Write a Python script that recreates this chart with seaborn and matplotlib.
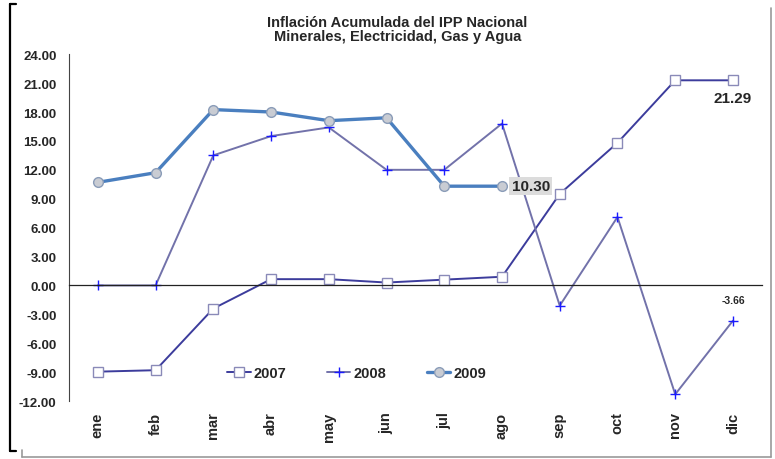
"""Inflacion acumulada del IPP Nacional - Minerales, Electricidad, Gas y Agua."""

import matplotlib
matplotlib.use("Agg")
import matplotlib.pyplot as plt
from matplotlib.lines import Line2D
import numpy as np
import pandas as pd
import seaborn as sns


MONTHS = ["ene", "feb", "mar", "abr", "may", "jun", "jul", "ago", "sep", "oct", "nov", "dic"]
Y2007 = [-8.95, -8.8, -2.4, 0.65, 0.65, 0.3, 0.6, 0.9, 9.5, 14.8, 21.29, 21.29]
Y2008 = [0.0, 0.0, 13.5, 15.5, 16.4, 12.0, 12.0, 16.8, -2.1, 7.1, -11.3, -3.66]
Y2009 = [10.7, 11.7, 18.25, 18.0, 17.1, 17.4, 10.3, 10.3]
YTICKS = np.arange(-12, 25, 3)


def main() -> None:
    sns.set_theme(style="white")
    plt.rcParams["font.family"] = ["Liberation Sans", "DejaVu Sans"]

    df = pd.DataFrame({
        "pos": np.arange(12),
        "2007": Y2007,
        "2008": Y2008,
        "2009": Y2009 + [np.nan] * (12 - len(Y2009)),
    })

    fig = plt.figure(figsize=(7.75, 4.6), dpi=100)
    ax = fig.add_axes([0.089, 0.126, 0.894, 0.754])

    sns.lineplot(data=df, x="pos", y="2007", color="#3c3c9c", linewidth=1.4,
                 marker="s", markersize=7, markerfacecolor="white",
                 markeredgecolor="#8a8ab8", markeredgewidth=1.0, ax=ax)
    sns.lineplot(data=df, x="pos", y="2008", color="#7272aa", linewidth=1.4,
                 marker="+", markersize=7, markeredgecolor="#1a1aff",
                 markeredgewidth=1.0, ax=ax)
    d9 = df.dropna(subset=["2009"])
    sns.lineplot(data=d9, x="pos", y="2009", color="#4a7fbf", linewidth=2.4,
                 marker="o", markersize=7, markerfacecolor="#c9ccd3",
                 markeredgecolor="#8a9cb8", markeredgewidth=1.0, ax=ax)

    ax.set_xlim(-0.5, 11.5)
    ax.set_ylim(-12, 24)
    ax.set_yticks(YTICKS)
    ax.set_yticklabels([f"{v:.2f}" for v in YTICKS], fontsize=9.5, fontweight="bold")
    ax.set_xticks(np.arange(-0.5, 12, 1))
    ax.set_xticklabels([])
    ax.set_xlabel("")
    ax.set_ylabel("")
    ax.grid(False)

    for side in ["top", "right"]:
        ax.spines[side].set_visible(False)
    ax.spines["left"].set_color("#444444")
    ax.spines["left"].set_linewidth(0.8)
    ax.spines["bottom"].set_position(("data", 0))
    ax.spines["bottom"].set_color("#222222")
    ax.spines["bottom"].set_linewidth(0.9)
    ax.tick_params(axis="y", direction="out", length=4, width=0.8, color="#444444", pad=5)
    ax.tick_params(axis="x", direction="in", length=5, width=0.8, color="#333333")

    for i, m in enumerate(MONTHS):
        ax.text(i, -0.03, m, transform=ax.get_xaxis_transform(), rotation=90,
                ha="center", va="top", fontsize=10.5, fontweight="bold")

    ax.annotate(f"{Y2009[-1]:.2f}", xy=(7, Y2009[-1]), xytext=(7, 0),
                textcoords="offset points", ha="left", va="center",
                fontsize=11, fontweight="bold",
                bbox=dict(boxstyle="square,pad=0.15", facecolor="#dcdcdc", edgecolor="none"))
    ax.annotate(f"{Y2007[-1]:.2f}", xy=(11, Y2007[-1]), xytext=(0, -13),
                textcoords="offset points", ha="center", va="center",
                fontsize=11, fontweight="bold")
    ax.annotate(f"{Y2008[-1]:.2f}", xy=(11, Y2008[-1]), xytext=(0, 15),
                textcoords="offset points", ha="center", va="center",
                fontsize=7.5, fontweight="bold")

    handles = [ax.lines[0], ax.lines[1], ax.lines[2]]
    ax.legend(handles, ["2007", "2008", "2009"], ncol=3, frameon=False,
              loc="center", bbox_to_anchor=(0.415, 0.08), handlelength=1.6,
              columnspacing=2.8, handletextpad=0.2,
              prop={"weight": "bold", "size": 10.5})

    fig.text(0.513, 0.965, "Inflación Acumulada del IPP Nacional\nMinerales, Electricidad, Gas y Agua",
             ha="center", va="top", fontsize=10.5, fontweight="bold", linespacing=1.0)

    # outer frame pieces of the original chart area
    fig.add_artist(Line2D([0.013, 0.013], [0.017, 0.989], color="black", linewidth=1.6))
    fig.add_artist(Line2D([0.013, 0.02], [0.989, 0.989], color="black", linewidth=1.6))
    fig.add_artist(Line2D([0.013, 0.02], [0.017, 0.017], color="black", linewidth=1.6))
    fig.add_artist(Line2D([0.028, 0.995], [0.004, 0.004], color="#999999", linewidth=1.2))
    fig.add_artist(Line2D([0.028, 0.028], [0.004, 0.02], color="#999999", linewidth=1.2))
    fig.add_artist(Line2D([0.995, 0.995], [0.004, 0.98], color="#999999", linewidth=1.2))

    fig.savefig("out.png", dpi=100)
    plt.close(fig)


if __name__ == "__main__":
    main()
